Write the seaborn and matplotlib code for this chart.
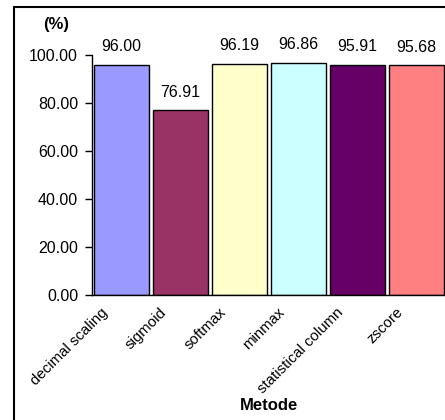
import matplotlib.pyplot as plt
import matplotlib.transforms as mtransforms
import seaborn as sns
import pandas as pd
from matplotlib.patches import Rectangle

# Accuracy per normalisation method
methods = ["decimal scaling", "sigmoid", "softmax", "minmax", "statistical column", "zscore"]
accuracy = [96.00, 76.91, 96.19, 96.86, 95.91, 95.68]
bar_colors = ["#9999FF", "#993366", "#FFFFCC", "#CCFFFF", "#660066", "#FF8080"]

df = pd.DataFrame({"Metode": methods, "Akurasi": accuracy})

sns.set_style("white")
plt.rcParams["font.family"] = ["Liberation Sans", "DejaVu Sans"]
plt.rcParams["text.color"] = "black"
plt.rcParams["xtick.color"] = "black"
plt.rcParams["ytick.color"] = "black"

fig = plt.figure(figsize=(4.45, 4.2), dpi=100)
ax = fig.add_axes([92 / 445, 125 / 420, 354 / 445, 240 / 420])

sns.barplot(data=df, x="Metode", y="Akurasi", hue="Metode", palette=bar_colors,
            saturation=1, legend=False, width=0.92, edgecolor="black", linewidth=1, ax=ax)

for i, v in enumerate(accuracy):
    ax.text(i, v + 4.5, f"{v:.2f}", ha="center", va="bottom", fontsize=11.5)

ax.set_ylim(0, 100)
ax.set_xlim(-0.5, len(methods) - 0.5)
ax.set_yticks(range(0, 101, 20))
ax.set_yticklabels([f"{t:.2f}" for t in range(0, 101, 20)], fontsize=11.5)

# category labels: rotated, sitting a little left of each bar centre
ax.set_xticks(range(len(methods)))
ax.set_xticklabels([])
label_tr = ax.get_xaxis_transform() + mtransforms.ScaledTranslation(-16 / 100, -15 / 100, fig.dpi_scale_trans)
for i, name in enumerate(methods):
    ax.text(i, 0, name, transform=label_tr, rotation=45, ha="right", va="center",
            rotation_mode="anchor", fontsize=10.8)

ax.set_xticks([i - 0.5 for i in range(len(methods) + 1)], minor=True)
ax.tick_params(axis="x", which="major", length=0)
ax.tick_params(axis="x", which="minor", length=5, width=1, color="black", direction="out")
ax.tick_params(axis="y", length=5, width=1, color="black", direction="out", left=True, pad=5)

ax.set_xlabel("")
ax.set_ylabel("")
for side in ["top", "right"]:
    ax.spines[side].set_visible(False)
for side in ["left", "bottom"]:
    ax.spines[side].set_color("black")
    ax.spines[side].set_linewidth(1)

fig.text(56 / 445, 1 - 25 / 420, "(%)", ha="center", va="center", fontsize=12, fontweight="bold")
fig.text(269 / 445, 1 - 406 / 420, "Metode", ha="center", va="center", fontsize=12, fontweight="bold")

# outer chart border
fig.patches.append(Rectangle((14 / 445, -0.05), 1.0, 1 - 7 / 420 + 0.05, transform=fig.transFigure,
                             fill=False, edgecolor="black", linewidth=1.5))

fig.savefig("out.png", dpi=100)
